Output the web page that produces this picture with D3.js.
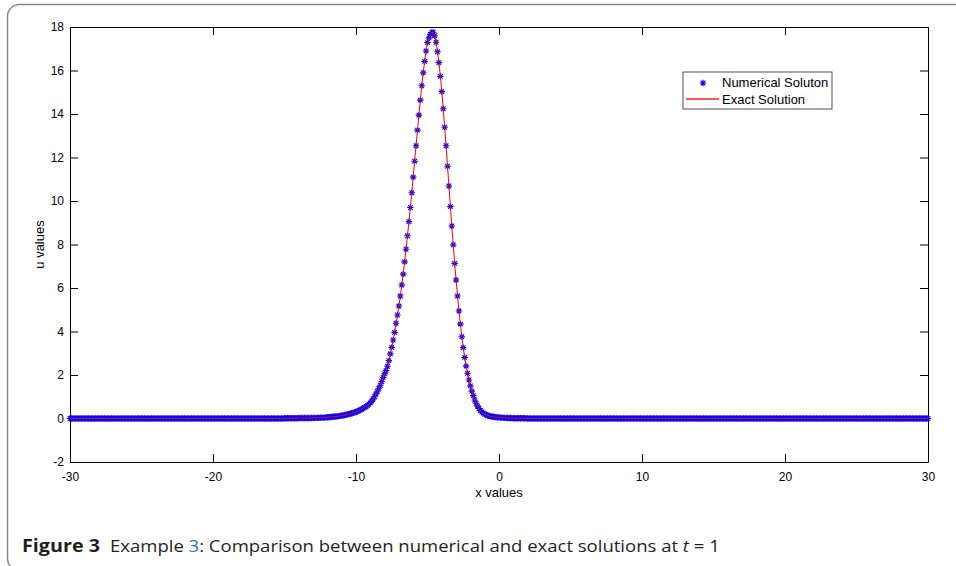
<!DOCTYPE html>
<html>
<head>
<meta charset="utf-8">
<script src="https://cdn.jsdelivr.net/npm/d3@7"></script>
<style>
  body { margin: 0; background: #fff; }
  svg { display: block; }
</style>
</head>
<body>
<div id="chart"></div>
<script>
// grille x (pas 0.1)
const xValues = [
  -30,-29.9,-29.8,-29.7,-29.6,-29.5,-29.4,-29.3,-29.2,-29.1,
  -29,-28.9,-28.8,-28.7,-28.6,-28.5,-28.4,-28.3,-28.2,-28.1,
  -28,-27.9,-27.8,-27.7,-27.6,-27.5,-27.4,-27.3,-27.2,-27.1,
  -27,-26.9,-26.8,-26.7,-26.6,-26.5,-26.4,-26.3,-26.2,-26.1,
  -26,-25.9,-25.8,-25.7,-25.6,-25.5,-25.4,-25.3,-25.2,-25.1,
  -25,-24.9,-24.8,-24.7,-24.6,-24.5,-24.4,-24.3,-24.2,-24.1,
  -24,-23.9,-23.8,-23.7,-23.6,-23.5,-23.4,-23.3,-23.2,-23.1,
  -23,-22.9,-22.8,-22.7,-22.6,-22.5,-22.4,-22.3,-22.2,-22.1,
  -22,-21.9,-21.8,-21.7,-21.6,-21.5,-21.4,-21.3,-21.2,-21.1,
  -21,-20.9,-20.8,-20.7,-20.6,-20.5,-20.4,-20.3,-20.2,-20.1,
  -20,-19.9,-19.8,-19.7,-19.6,-19.5,-19.4,-19.3,-19.2,-19.1,
  -19,-18.9,-18.8,-18.7,-18.6,-18.5,-18.4,-18.3,-18.2,-18.1,
  -18,-17.9,-17.8,-17.7,-17.6,-17.5,-17.4,-17.3,-17.2,-17.1,
  -17,-16.9,-16.8,-16.7,-16.6,-16.5,-16.4,-16.3,-16.2,-16.1,
  -16,-15.9,-15.8,-15.7,-15.6,-15.5,-15.4,-15.3,-15.2,-15.1,
  -15,-14.9,-14.8,-14.7,-14.6,-14.5,-14.4,-14.3,-14.2,-14.1,
  -14,-13.9,-13.8,-13.7,-13.6,-13.5,-13.4,-13.3,-13.2,-13.1,
  -13,-12.9,-12.8,-12.7,-12.6,-12.5,-12.4,-12.3,-12.2,-12.1,
  -12,-11.9,-11.8,-11.7,-11.6,-11.5,-11.4,-11.3,-11.2,-11.1,
  -11,-10.9,-10.8,-10.7,-10.6,-10.5,-10.4,-10.3,-10.2,-10.1,
  -10,-9.9,-9.8,-9.7,-9.6,-9.5,-9.4,-9.3,-9.2,-9.1,
  -9,-8.9,-8.8,-8.7,-8.6,-8.5,-8.4,-8.3,-8.2,-8.1,
  -8,-7.9,-7.8,-7.7,-7.6,-7.5,-7.4,-7.3,-7.2,-7.1,
  -7,-6.9,-6.8,-6.7,-6.6,-6.5,-6.4,-6.3,-6.2,-6.1,
  -6,-5.9,-5.8,-5.7,-5.6,-5.5,-5.4,-5.3,-5.2,-5.1,
  -5,-4.9,-4.8,-4.7,-4.6,-4.5,-4.4,-4.3,-4.2,-4.1,
  -4,-3.9,-3.8,-3.7,-3.6,-3.5,-3.4,-3.3,-3.2,-3.1,
  -3,-2.9,-2.8,-2.7,-2.6,-2.5,-2.4,-2.3,-2.2,-2.1,
  -2,-1.9,-1.8,-1.7,-1.6,-1.5,-1.4,-1.3,-1.2,-1.1,
  -1,-0.9,-0.8,-0.7,-0.6,-0.5,-0.4,-0.3,-0.2,-0.1,
  0,0.1,0.2,0.3,0.4,0.5,0.6,0.7,0.8,0.9,
  1,1.1,1.2,1.3,1.4,1.5,1.6,1.7,1.8,1.9,
  2,2.1,2.2,2.3,2.4,2.5,2.6,2.7,2.8,2.9,
  3,3.1,3.2,3.3,3.4,3.5,3.6,3.7,3.8,3.9,
  4,4.1,4.2,4.3,4.4,4.5,4.6,4.7,4.8,4.9,
  5,5.1,5.2,5.3,5.4,5.5,5.6,5.7,5.8,5.9,
  6,6.1,6.2,6.3,6.4,6.5,6.6,6.7,6.8,6.9,
  7,7.1,7.2,7.3,7.4,7.5,7.6,7.7,7.8,7.9,
  8,8.1,8.2,8.3,8.4,8.5,8.6,8.7,8.8,8.9,
  9,9.1,9.2,9.3,9.4,9.5,9.6,9.7,9.8,9.9,
  10,10.1,10.2,10.3,10.4,10.5,10.6,10.7,10.8,10.9,
  11,11.1,11.2,11.3,11.4,11.5,11.6,11.7,11.8,11.9,
  12,12.1,12.2,12.3,12.4,12.5,12.6,12.7,12.8,12.9,
  13,13.1,13.2,13.3,13.4,13.5,13.6,13.7,13.8,13.9,
  14,14.1,14.2,14.3,14.4,14.5,14.6,14.7,14.8,14.9,
  15,15.1,15.2,15.3,15.4,15.5,15.6,15.7,15.8,15.9,
  16,16.1,16.2,16.3,16.4,16.5,16.6,16.7,16.8,16.9,
  17,17.1,17.2,17.3,17.4,17.5,17.6,17.7,17.8,17.9,
  18,18.1,18.2,18.3,18.4,18.5,18.6,18.7,18.8,18.9,
  19,19.1,19.2,19.3,19.4,19.5,19.6,19.7,19.8,19.9,
  20,20.1,20.2,20.3,20.4,20.5,20.6,20.7,20.8,20.9,
  21,21.1,21.2,21.3,21.4,21.5,21.6,21.7,21.8,21.9,
  22,22.1,22.2,22.3,22.4,22.5,22.6,22.7,22.8,22.9,
  23,23.1,23.2,23.3,23.4,23.5,23.6,23.7,23.8,23.9,
  24,24.1,24.2,24.3,24.4,24.5,24.6,24.7,24.8,24.9,
  25,25.1,25.2,25.3,25.4,25.5,25.6,25.7,25.8,25.9,
  26,26.1,26.2,26.3,26.4,26.5,26.6,26.7,26.8,26.9,
  27,27.1,27.2,27.3,27.4,27.5,27.6,27.7,27.8,27.9,
  28,28.1,28.2,28.3,28.4,28.5,28.6,28.7,28.8,28.9,
  29,29.1,29.2,29.3,29.4,29.5,29.6,29.7,29.8,29.9,
  30
];

// solution numérique u, une ligne = une unité de x
const uValues = [
  0,0,0,0,0,0,0,0,0,0,   // -30
  0,0,0,0,0,0,0,0,0,0,
  0,0,0,0,0,0,0,0,0,0,
  0,0,0,0,0,0,0,0,0,0,
  0,0,0,0,0,0,0,0,0,0,
  0,0,0,0,0,0,0,0,0,0,   // -25
  0,0,0,0,0,0,0,0,0,0,
  0,0,0,0,0,0,0,0,0,0,
  0,0,0,0,0,0,0,0,0,0,
  0,0,0,0,0,0,0,0,0,0,
  0,0,0,0,0,0,0,0,0,0,   // -20
  0,0,0,0,0,0,0,0,0,0,
  0,0,0,0,0,0,0,0,0,0,
  0,0,0,0,0,0,0,0,0,0,
  0,0,0,0,0,0,0,0,0,0,
  0.01,0.01,0.01,0.01,0.01,0.01,0.01,0.01,0.01,0.01,   // -15
  0.02,0.02,0.02,0.02,0.02,0.02,0.02,0.02,0.02,0.02,
  0.03,0.03,0.03,0.03,0.03,0.04,0.04,0.04,0.04,0.05,
  0.06,0.06,0.07,0.07,0.08,0.09,0.09,0.1,0.11,0.12,
  0.13,0.14,0.16,0.17,0.19,0.2,0.22,0.24,0.26,0.28,
  0.3,0.33,0.36,0.39,0.43,0.47,0.51,0.55,0.6,0.65,   // -10
  0.72,0.8,0.9,1.0,1.12,1.25,1.39,1.53,1.7,1.88,
  2.05,2.2,2.4,2.66,2.97,3.27,3.61,3.96,4.38,4.76,
  5.17,5.63,6.14,6.64,7.2,7.78,8.4,9.05,9.7,10.38,
  11.1,11.83,12.54,13.26,13.95,14.64,15.3,15.9,16.42,16.9,
  17.28,17.5,17.66,17.75,17.76,17.6,17.3,16.86,16.36,15.73,   // -5
  15.03,14.24,13.39,12.54,11.6,10.69,9.74,8.85,7.98,7.13,
  6.37,5.63,4.94,4.34,3.76,3.26,2.81,2.41,2.08,1.77,
  1.5,1.26,1.05,0.85,0.7,0.57,0.46,0.37,0.3,0.25,
  0.2,0.17,0.14,0.12,0.1,0.09,0.08,0.07,0.06,0.05,
  0.05,0.04,0.04,0.03,0.03,0.03,0.02,0.02,0.02,0.02,   // 0
  0.01,0.01,0.01,0.01,0.01,0.01,0.01,0.01,0.01,0.01,
  0,0,0,0,0,0,0,0,0,0,
  0,0,0,0,0,0,0,0,0,0,
  0,0,0,0,0,0,0,0,0,0,
  0,0,0,0,0,0,0,0,0,0,   // 5
  0,0,0,0,0,0,0,0,0,0,
  0,0,0,0,0,0,0,0,0,0,
  0,0,0,0,0,0,0,0,0,0,
  0,0,0,0,0,0,0,0,0,0,
  0,0,0,0,0,0,0,0,0,0,   // 10
  0,0,0,0,0,0,0,0,0,0,
  0,0,0,0,0,0,0,0,0,0,
  0,0,0,0,0,0,0,0,0,0,
  0,0,0,0,0,0,0,0,0,0,
  0,0,0,0,0,0,0,0,0,0,   // 15
  0,0,0,0,0,0,0,0,0,0,
  0,0,0,0,0,0,0,0,0,0,
  0,0,0,0,0,0,0,0,0,0,
  0,0,0,0,0,0,0,0,0,0,
  0,0,0,0,0,0,0,0,0,0,   // 20
  0,0,0,0,0,0,0,0,0,0,
  0,0,0,0,0,0,0,0,0,0,
  0,0,0,0,0,0,0,0,0,0,
  0,0,0,0,0,0,0,0,0,0,
  0,0,0,0,0,0,0,0,0,0,   // 25
  0,0,0,0,0,0,0,0,0,0,
  0,0,0,0,0,0,0,0,0,0,
  0,0,0,0,0,0,0,0,0,0,
  0,0,0,0,0,0,0,0,0,0,
  0                      // 30
];

const xTicks = [-30, -20, -10, 0, 10, 20, 30];
const yTicks = [-2, 0, 2, 4, 6, 8, 10, 12, 14, 16, 18];
const legendLabels = ["Numerical Soluton", "Exact Solution"];

// dimensions
const W = 956, H = 566;
const margin = { top: 27, left: 70 },
    width = 858,
    height = 435;

const svg = d3.select("#chart")
    .append("svg")
    .attr("width", W)
    .attr("height", H);

// cadre arrondi de la figure
svg.append("rect")
    .attr("x", 7.5)
    .attr("y", 4.5)
    .attr("width", 1000)
    .attr("height", 566)
    .attr("rx", 12)
    .style("fill", "none")
    .style("stroke", "#8a8a8a")
    .style("stroke-width", 1.5);

const g = svg.append("g")
    .attr("transform", `translate(${margin.left}, ${margin.top})`);

const x = d3.scaleLinear().domain([-30, 30]).range([0, width]);
const y = d3.scaleLinear().domain([-2, 18]).range([height, 0]);

const font = "'Liberation Sans', Arial, sans-serif";
const plain = d => String(d);   // tiret simple comme dans l'original

function styleAxis(sel) {
    sel.attr("font-family", font).attr("font-size", 12);
    sel.selectAll("path, line").attr("stroke", "#000");
    sel.selectAll("text").attr("fill", "#000");
}

/*** Axes (ticks vers l'intérieur, boîte fermée) ***/
g.append("g")
    .attr("transform", `translate(0, ${height})`)
    .call(d3.axisBottom(x).tickValues(xTicks).tickFormat(plain)
        .tickSizeInner(-8).tickSizeOuter(0).tickPadding(10))
    .call(styleAxis);

g.append("g")
    .call(d3.axisTop(x).tickValues(xTicks).tickSizeInner(-8).tickSizeOuter(0).tickFormat(""))
    .call(styleAxis);

g.append("g")
    .call(d3.axisLeft(y).tickValues(yTicks).tickFormat(plain)
        .tickSizeInner(-8).tickSizeOuter(0).tickPadding(6))
    .call(styleAxis);

g.append("g")
    .attr("transform", `translate(${width}, 0)`)
    .call(d3.axisRight(y).tickValues(yTicks).tickSizeInner(-8).tickSizeOuter(0).tickFormat(""))
    .call(styleAxis);

// labels des axes
g.append("text")
    .attr("x", x(0))
    .attr("y", height + 35)
    .attr("text-anchor", "middle")
    .style("font-family", font)
    .style("font-size", "13px")
    .text("x values");

g.append("text")
    .attr("transform", `translate(${44 - margin.left}, ${height / 2}) rotate(-90)`)
    .attr("text-anchor", "middle")
    .style("font-family", font)
    .style("font-size", "13px")
    .text("u values");

/*** Données ***/
const points = xValues.map((v, i) => ({ x: v, u: uValues[i] }));

const star = "M-3.2,0H3.2M0,-3.2V3.2M-2.3,-2.3L2.3,2.3M-2.3,2.3L2.3,-2.3";

// solution numérique : astérisques bleus
g.append("g")
    .selectAll("path")
    .data(points)
    .join("path")
    .attr("transform", d => `translate(${x(d.x)}, ${y(d.u)})`)
    .attr("d", star)
    .style("fill", "none")
    .style("stroke", "#0000ff")
    .style("stroke-width", 1.1);

// solution exacte : ligne rouge
const line = d3.line()
    .x(d => x(d.x))
    .y(d => y(d.u));

g.append("path")
    .datum(points)
    .attr("d", line)
    .style("fill", "none")
    .style("stroke", "#ff0000")
    .style("stroke-width", 1);

/*** Légende ***/
const lg = svg.append("g").attr("transform", "translate(683, 72)");
lg.append("rect")
    .attr("width", 149)
    .attr("height", 37)
    .style("fill", "#fff")
    .style("stroke", "#262626")
    .style("stroke-width", 0.8);

lg.append("path")
    .attr("transform", "translate(20, 11)")
    .attr("d", star)
    .style("fill", "none")
    .style("stroke", "#0000ff")
    .style("stroke-width", 1.1);

lg.append("line")
    .attr("x1", 3).attr("x2", 36)
    .attr("y1", 27).attr("y2", 27)
    .style("stroke", "#ff2020")
    .style("stroke-width", 1.3);

lg.selectAll("text.lab")
    .data(legendLabels)
    .join("text")
    .attr("class", "lab")
    .attr("x", 39)
    .attr("y", (d, i) => 15 + i * 16.5)
    .style("font-family", font)
    .style("font-size", "13px")
    .text(d => d);

/*** Légende de la figure (police condensée simulée) ***/
const capY = 552;

// "Figure 3" en gras, de x=22 à x=100
const titleGroup = svg.append("g");
const capTitle = titleGroup.append("text")
    .attr("x", 0)
    .attr("y", 0)
    .style("font-family", "'Open Sans', sans-serif")
    .style("font-size", "18px")
    .style("font-weight", "bold")
    .style("fill", "#231f20")
    .text("Figure 3");
const titleLen = capTitle.node().getComputedTextLength();
titleGroup.attr("transform", `translate(22, ${capY}) scale(${78 / titleLen}, 1)`);

// reste du texte, de x=110 à x=720
const capGroup = svg.append("g");
const capText = capGroup.append("text")
    .attr("x", 0)
    .attr("y", 0)
    .style("font-family", "'Open Sans', sans-serif")
    .style("font-size", "17px")
    .style("fill", "#231f20");
capText.append("tspan").text("Example ");
capText.append("tspan").style("fill", "#2f6fbf").text("3");
capText.append("tspan").text(": Comparison between numerical and exact solutions at ");
capText.append("tspan").style("font-style", "italic").text("t");
capText.append("tspan").text(" = 1");
const capLen = capText.node().getComputedTextLength();
capGroup.attr("transform", `translate(110, ${capY}) scale(${610 / capLen}, 1)`);
</script>
</body>
</html>
